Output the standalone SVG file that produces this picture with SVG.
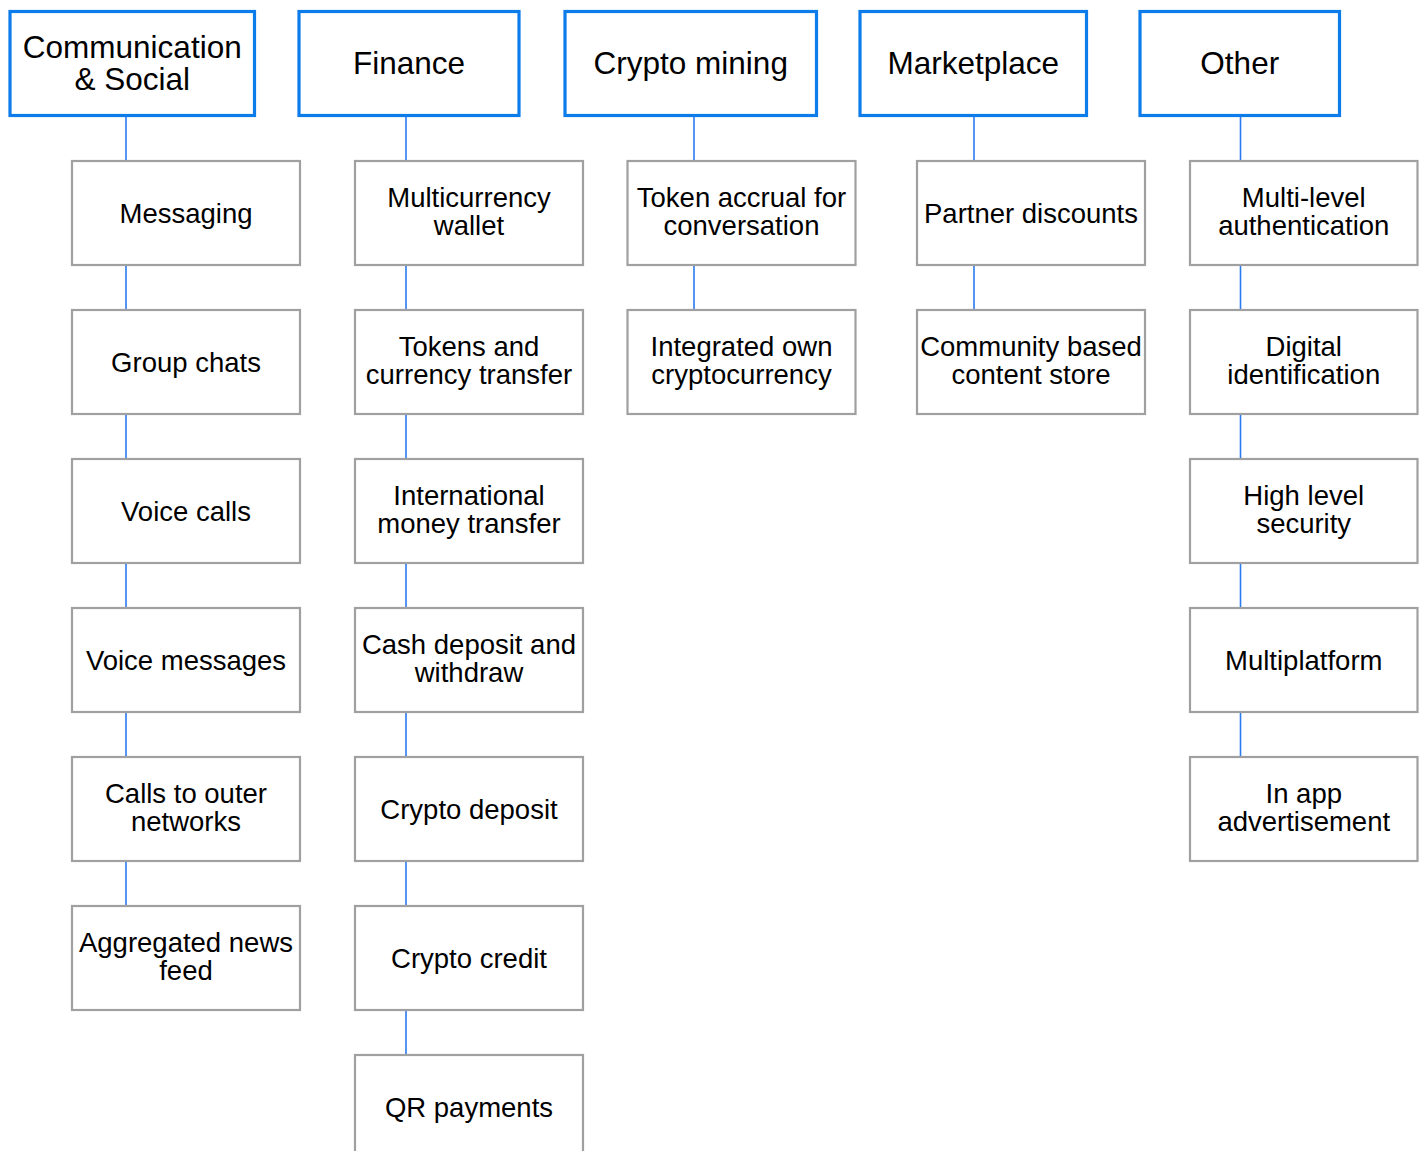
<svg xmlns="http://www.w3.org/2000/svg" width="1427" height="1151" viewBox="0 0 1427 1151">
<style>
.hdr rect{fill:#fff;stroke:#0d7ceb;stroke-width:3.2}
.item rect{fill:#fff;stroke:#a0a0a0;stroke-width:2.2}
text{font-family:"Liberation Sans",Arial,sans-serif;fill:#000;text-anchor:middle}
.hdr text{font-size:31.5px}
.item text{font-size:27.5px}
#connectors line{stroke:#2a7af0;stroke-width:1.6}
</style>
<rect width="1427" height="1151" fill="#fff"/>
<g id="connectors">
<line x1="126" y1="115.5" x2="126" y2="161"/>
<line x1="126" y1="265" x2="126" y2="310"/>
<line x1="126" y1="414" x2="126" y2="459"/>
<line x1="126" y1="563" x2="126" y2="608"/>
<line x1="126" y1="712" x2="126" y2="757"/>
<line x1="126" y1="861" x2="126" y2="906"/>
<line x1="406" y1="115.5" x2="406" y2="161"/>
<line x1="406" y1="265" x2="406" y2="310"/>
<line x1="406" y1="414" x2="406" y2="459"/>
<line x1="406" y1="563" x2="406" y2="608"/>
<line x1="406" y1="712" x2="406" y2="757"/>
<line x1="406" y1="861" x2="406" y2="906"/>
<line x1="406" y1="1010" x2="406" y2="1055"/>
<line x1="694" y1="115.5" x2="694" y2="161"/>
<line x1="694" y1="265" x2="694" y2="310"/>
<line x1="974" y1="115.5" x2="974" y2="161"/>
<line x1="974" y1="265" x2="974" y2="310"/>
<line x1="1240.5" y1="115.5" x2="1240.5" y2="161"/>
<line x1="1240.5" y1="265" x2="1240.5" y2="310"/>
<line x1="1240.5" y1="414" x2="1240.5" y2="459"/>
<line x1="1240.5" y1="563" x2="1240.5" y2="608"/>
<line x1="1240.5" y1="712" x2="1240.5" y2="757"/>
</g>
<g id="h-comm" class="hdr"><rect x="10" y="11.5" width="244.5" height="104"/><text x="132.25" y="58.3">Communication</text><text x="132.25" y="90">&amp; Social</text></g>
<g id="h-finance" class="hdr"><rect x="299" y="11.5" width="220" height="104"/><text x="409" y="74">Finance</text></g>
<g id="h-crypto" class="hdr"><rect x="565" y="11.5" width="251.5" height="104"/><text x="690.75" y="74">Crypto mining</text></g>
<g id="h-market" class="hdr"><rect x="860" y="11.5" width="226.5" height="104"/><text x="973.25" y="74">Marketplace</text></g>
<g id="h-other" class="hdr"><rect x="1140" y="11.5" width="199.5" height="104"/><text x="1239.75" y="74">Other</text></g>

<g id="c1" class="item"><rect x="72" y="161" width="228" height="104"/><text x="186" y="222.7">Messaging</text></g>
<g id="c2" class="item"><rect x="72" y="310" width="228" height="104"/><text x="186" y="371.7">Group chats</text></g>
<g id="c3" class="item"><rect x="72" y="459" width="228" height="104"/><text x="186" y="520.7">Voice calls</text></g>
<g id="c4" class="item"><rect x="72" y="608" width="228" height="104"/><text x="186" y="669.7">Voice messages</text></g>
<g id="c5" class="item"><rect x="72" y="757" width="228" height="104"/><text x="186" y="803.3">Calls to outer</text><text x="186" y="831">networks</text></g>
<g id="c6" class="item"><rect x="72" y="906" width="228" height="104"/><text x="186" y="952.3">Aggregated news</text><text x="186" y="980">feed</text></g>

<g id="f1" class="item"><rect x="355" y="161" width="228" height="104"/><text x="469" y="207.3">Multicurrency</text><text x="469" y="235">wallet</text></g>
<g id="f2" class="item"><rect x="355" y="310" width="228" height="104"/><text x="469" y="356.3">Tokens and</text><text x="469" y="384">currency transfer</text></g>
<g id="f3" class="item"><rect x="355" y="459" width="228" height="104"/><text x="469" y="505.3">International</text><text x="469" y="533">money transfer</text></g>
<g id="f4" class="item"><rect x="355" y="608" width="228" height="104"/><text x="469" y="654.3">Cash deposit and</text><text x="469" y="682">withdraw</text></g>
<g id="f5" class="item"><rect x="355" y="757" width="228" height="104"/><text x="469" y="818.7">Crypto deposit</text></g>
<g id="f6" class="item"><rect x="355" y="906" width="228" height="104"/><text x="469" y="967.7">Crypto credit</text></g>
<g id="f7" class="item"><rect x="355" y="1055" width="228" height="104"/><text x="469" y="1116.7">QR payments</text></g>

<g id="m1" class="item"><rect x="627.5" y="161" width="228" height="104"/><text x="741.5" y="207.3">Token accrual for</text><text x="741.5" y="235">conversation</text></g>
<g id="m2" class="item"><rect x="627.5" y="310" width="228" height="104"/><text x="741.5" y="356.3">Integrated own</text><text x="741.5" y="384">cryptocurrency</text></g>

<g id="k1" class="item"><rect x="917" y="161" width="228" height="104"/><text x="1031" y="222.7">Partner discounts</text></g>
<g id="k2" class="item"><rect x="917" y="310" width="228" height="104"/><text x="1031" y="356.3">Community based</text><text x="1031" y="384">content store</text></g>

<g id="o1" class="item"><rect x="1190" y="161" width="227.5" height="104"/><text x="1303.75" y="207.3">Multi-level</text><text x="1303.75" y="235">authentication</text></g>
<g id="o2" class="item"><rect x="1190" y="310" width="227.5" height="104"/><text x="1303.75" y="356.3">Digital</text><text x="1303.75" y="384">identification</text></g>
<g id="o3" class="item"><rect x="1190" y="459" width="227.5" height="104"/><text x="1303.75" y="505.3">High level</text><text x="1303.75" y="533">security</text></g>
<g id="o4" class="item"><rect x="1190" y="608" width="227.5" height="104"/><text x="1303.75" y="669.7">Multiplatform</text></g>
<g id="o5" class="item"><rect x="1190" y="757" width="227.5" height="104"/><text x="1303.75" y="803.3">In app</text><text x="1303.75" y="831">advertisement</text></g>
</svg>
